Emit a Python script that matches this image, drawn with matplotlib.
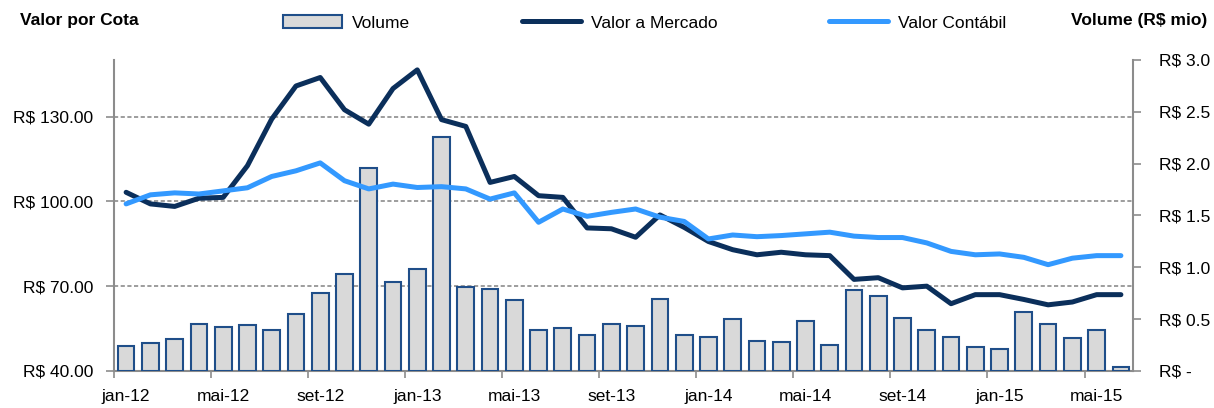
import matplotlib.pyplot as plt
import numpy as np

plt.rcParams['font.family'] = ['Liberation Sans', 'DejaVu Sans']

# volume mensal (R$ mio), jan-12 .. jun-15
volume = [0.24, 0.27, 0.31, 0.45, 0.42, 0.44, 0.40, 0.55, 0.75, 0.94,
          1.96, 0.86, 0.98, 2.26, 0.81, 0.79, 0.68, 0.40, 0.41, 0.35,
          0.45, 0.43, 0.69, 0.35, 0.33, 0.50, 0.29, 0.28, 0.48, 0.25,
          0.78, 0.72, 0.51, 0.40, 0.33, 0.23, 0.21, 0.57, 0.45, 0.32,
          0.40, 0.04]
valor_mercado = [103.2, 99.1, 98.2, 101.1, 101.4, 112.6, 129.1, 140.8, 143.8, 132.4,
                 127.3, 139.9, 146.5, 128.9, 126.5, 106.7, 108.8, 102.0, 101.4, 90.6,
                 90.3, 87.3, 95.2, 90.8, 85.8, 82.9, 81.1, 82.0, 81.1, 80.8,
                 72.4, 73.0, 69.4, 70.0, 63.8, 67.0, 67.0, 65.3, 63.4, 64.4,
                 67.0, 67.0]
valor_contabil = [99.1, 102.3, 103.0, 102.6, 103.7, 104.8, 108.8, 110.8, 113.6, 107.3,
                  104.4, 106.1, 104.9, 105.2, 104.4, 100.8, 103.0, 92.6, 97.3, 94.7,
                  96.1, 97.3, 94.4, 92.9, 86.7, 88.1, 87.5, 87.9, 88.5, 89.1,
                  87.7, 87.2, 87.2, 85.3, 82.3, 81.1, 81.4, 80.2, 77.6, 79.9,
                  80.8, 80.8]
tick_labels = ['jan-12', 'mai-12', 'set-12', 'jan-13', 'mai-13', 'set-13',
               'jan-14', 'mai-14', 'set-14', 'jan-15', 'mai-15']

x = np.arange(len(volume))
cinza = '#8c8c8c'

fig = plt.figure(figsize=(12.14, 4.08), dpi=100)
ax = fig.add_axes([0.0939, 0.0907, 0.8394, 0.7623])
ax_bar = ax.twinx()
ax_line = ax.twinx()

# eixo esquerdo + grade
ax.set_xlim(-0.5, len(volume) - 0.5)
ax.set_ylim(40, 150)
ax.set_yticks([40, 70, 100, 130])
ax.set_yticklabels(['R$ %.2f' % v for v in [40, 70, 100, 130]])
ax.yaxis.grid(True, linestyle=(0, (2.5, 1.5)), color=cinza, linewidth=1.2)
ax.tick_params(axis='y', direction='out', length=6, width=1.2, color=cinza,
               labelsize=12.5, pad=9)
ax.set_xticks(np.arange(-0.5, len(volume) - 1, 4))
ax.set_xticklabels([])
ax.set_xticks(np.arange(0, len(volume), 4), minor=True)
ax.set_xticklabels(tick_labels, minor=True)
ax.tick_params(axis='x', which='major', direction='out', length=5, width=1.2, color=cinza)
ax.tick_params(axis='x', which='minor', length=0, labelsize=12.5, pad=13)
for s in ['top', 'right']:
    ax.spines[s].set_visible(False)
for s in ['left', 'bottom']:
    ax.spines[s].set_color(cinza)
    ax.spines[s].set_linewidth(1.5)

# barras (eixo direito)
bars = ax_bar.bar(x, volume, width=0.69, color='#d9d9d9', edgecolor='#1f4e89',
                  linewidth=1.5, label='Volume')
ax_bar.set_ylim(0, 3)
ax_bar.set_yticks(np.arange(0, 3.01, 0.5))
ax_bar.set_yticklabels(['R$ -'] + ['R$ %.1f' % v for v in np.arange(0.5, 3.01, 0.5)])
ax_bar.tick_params(axis='y', direction='out', length=6, width=1.2, color=cinza,
                   labelsize=12.5, pad=13)
for s in ['top', 'left', 'bottom']:
    ax_bar.spines[s].set_visible(False)
ax_bar.spines['right'].set_color(cinza)
ax_bar.spines['right'].set_linewidth(1.5)

# linhas
l1, = ax_line.plot(x, valor_mercado, color='#0b2f5b', lw=3.6, label='Valor a Mercado',
                   solid_capstyle='round', solid_joinstyle='round')
l2, = ax_line.plot(x, valor_contabil, color='#3399ff', lw=3.6, label='Valor Contábil',
                   solid_capstyle='round', solid_joinstyle='round')
ax_line.set_ylim(40, 150)
ax_line.set_yticks([])
for s in ax_line.spines.values():
    s.set_visible(False)

fig.legend([bars, l1, l2], ['Volume', 'Valor a Mercado', 'Valor Contábil'],
           loc='upper left', bbox_to_anchor=(0.2335, 0.963), ncol=3, frameon=False,
           fontsize=12.5, handlelength=3.4, handleheight=0.8, handletextpad=0.55,
           columnspacing=6.45, borderpad=0, borderaxespad=0)

fig.text(20 / 1214, 1 - 21 / 408, 'Valor por Cota', fontsize=12.5, fontweight='bold',
         ha='left', va='center')
fig.text(1207 / 1214, 1 - 21 / 408, 'Volume (R$ mio)', fontsize=12.5, fontweight='bold',
         ha='right', va='center')

fig.savefig('out.png', dpi=100)
